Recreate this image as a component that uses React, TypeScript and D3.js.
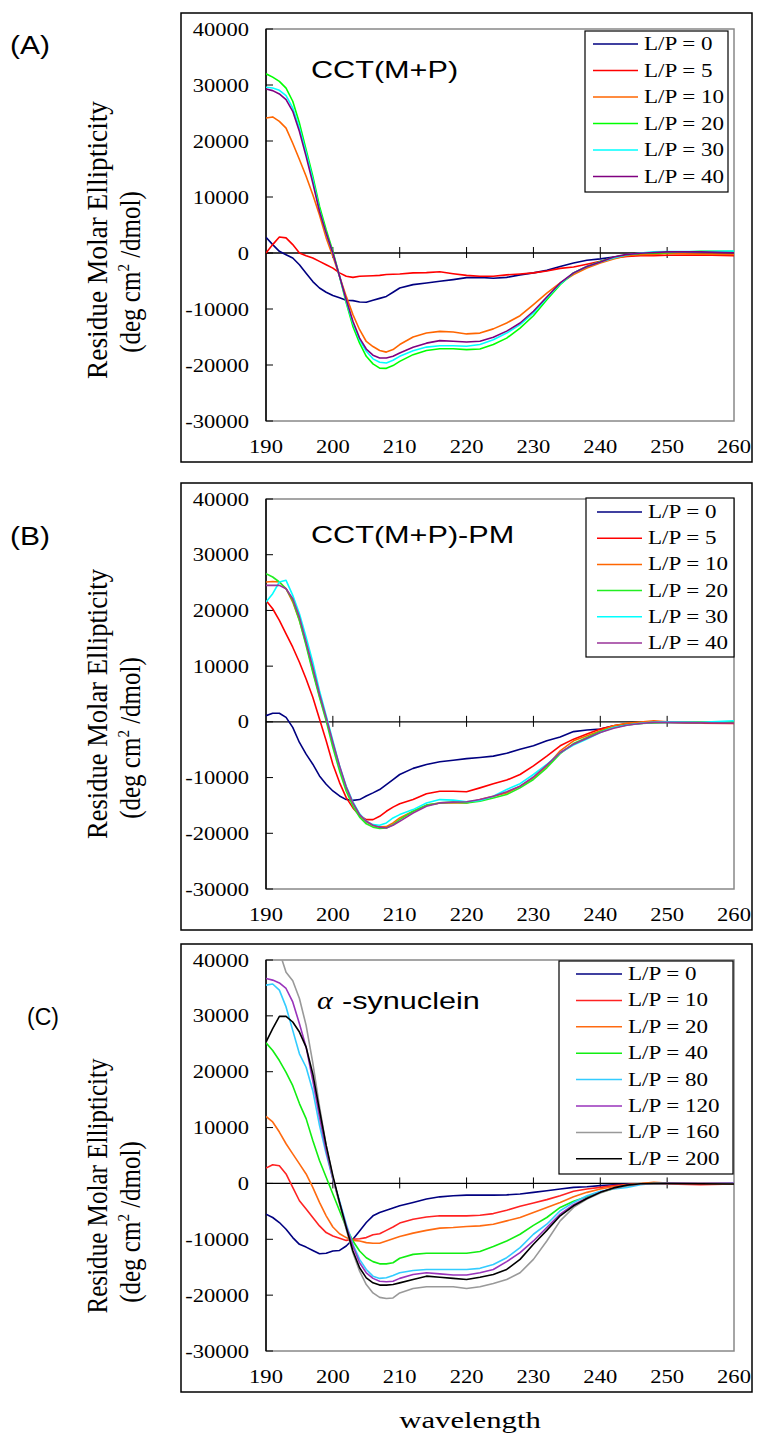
import React, { useEffect } from 'react';
import * as d3 from 'd3';

// ---------- DATA ----------
const WL = [190,191,192,193,194,195,196,197,198,199,200,201,202,203,204,205,206,207,208,209,210,
  212,214,216,218,220,222,224,226,228,230,232,234,236,238,240,242,244,246,248,250,255,260];

const X_TICKS = [190, 200, 210, 220, 230, 240, 250, 260];
const Y_TICKS = [40000, 30000, 20000, 10000, 0, -10000, -20000, -30000];

// Panel A : CCT(M+P)
const A_LABELS = ['L/P = 0', 'L/P = 5', 'L/P = 10', 'L/P = 20', 'L/P = 30', 'L/P = 40'];
const A_LP0 = [2800,1500,300,-300,-900,-2100,-3600,-5100,-6250,-7000,-7600,-8000,-8450,-8500,-8750,-8800,-8450,-8100,-7750,-7000,-6250,
  -5650,-5350,-5050,-4750,-4400,-4350,-4500,-4350,-3900,-3550,-3100,-2400,-1800,-1300,-1050,-700,-400,-300,-200,0,100,-50];
const A_LP5 = [0,1500,2850,2700,1500,0,-500,-900,-1500,-2100,-2700,-3550,-4150,-4350,-4150,-4100,-4050,-4000,-3850,-3800,-3750,
  -3550,-3500,-3350,-3700,-4000,-4150,-4150,-3900,-3750,-3550,-3200,-2750,-2500,-2000,-1500,-900,-600,-500,-500,-400,-350,-500];
const A_LP10 = [24100,24300,23500,22300,19600,16700,13700,10400,6800,2700,-600,-4150,-7750,-11000,-13700,-15800,-16700,-17400,-17700,-17250,-16350,
  -15000,-14300,-14000,-14100,-14450,-14300,-13550,-12500,-11200,-9200,-7150,-5350,-3850,-2700,-1800,-1050,-500,-300,-250,-100,-200,-250];
const A_LP20 = [32000,31400,30650,29450,27100,23200,18450,13700,8350,4150,300,-4150,-8900,-13100,-16100,-18450,-19800,-20550,-20600,-20100,-19350,
  -18150,-17400,-17100,-17100,-17250,-17150,-16350,-15200,-13400,-11200,-8350,-5650,-3550,-2400,-1500,-750,-300,-100,0,50,300,300];
const A_LP30 = [29600,29450,29050,28100,25900,22300,17850,13100,7750,3550,0,-4150,-8600,-12500,-15500,-17550,-18900,-19500,-19650,-19150,-18450,
  -17450,-16800,-16550,-16550,-16650,-16350,-15500,-14300,-12800,-10700,-8050,-5500,-3550,-2400,-1600,-900,-300,0,200,250,250,350];
const A_LP40 = [29300,29000,28400,27400,25300,21700,17250,12500,7450,3550,0,-4150,-8350,-12200,-15200,-17150,-18250,-18750,-18750,-18450,-17850,
  -16850,-16100,-15650,-15750,-15900,-15750,-15050,-13950,-12500,-10400,-7850,-5350,-3550,-2400,-1600,-700,-250,-50,100,200,200,50];

// Panel B : CCT(M+P)-PM
const B_LABELS = ['L/P = 0', 'L/P = 5', 'L/P = 10', 'L/P = 20', 'L/P = 30', 'L/P = 40'];
const B_LP0 = [1100,1550,1550,800,-1000,-3700,-5800,-7600,-9700,-11200,-12400,-13300,-13950,-14100,-13950,-13300,-12750,-12150,-11250,-10350,-9450,
  -8350,-7650,-7150,-6900,-6600,-6400,-6150,-5650,-4900,-4300,-3400,-2700,-1750,-1450,-1300,-700,-400,-300,-100,-100,-150,-200];
const B_LP5 = [21800,20300,18200,15800,13400,10700,7700,4400,500,-3400,-7600,-10900,-13600,-15450,-16800,-17550,-17550,-16950,-16050,-15300,-14700,
  -13950,-12900,-12450,-12450,-12550,-11850,-11100,-10450,-9450,-7900,-6150,-4300,-3100,-2200,-1300,-700,-300,-200,-50,-50,-250,-300];
const B_LP10 = [25100,25200,25100,23900,21500,18200,14000,9200,4700,500,-4000,-8200,-11850,-14550,-16650,-17950,-18600,-18850,-18800,-18150,-17250,
  -16050,-14950,-14550,-14550,-14550,-13950,-13350,-12750,-11550,-10050,-7950,-5200,-3400,-2500,-1600,-700,-250,-50,200,0,-50,-100];
const B_LP20 = [26600,26000,25100,23900,21800,18200,13700,8900,4400,200,-4600,-8800,-12450,-15150,-17100,-18300,-18900,-19150,-19050,-18450,-17550,
  -16050,-14950,-14550,-14400,-14550,-14250,-13650,-13050,-11850,-10350,-8250,-5700,-3900,-2800,-1750,-1000,-550,-300,-200,-100,-100,-50];
const B_LP30 = [21500,23000,25100,25400,22700,19400,15200,10700,5600,1100,-3400,-7900,-11550,-14350,-16500,-17850,-18450,-18550,-18150,-17250,-16650,
  -15750,-14550,-13950,-14050,-14350,-14100,-13350,-12150,-11100,-9450,-7650,-5550,-4150,-3100,-1900,-1000,-550,-250,-50,0,-100,200];
const B_LP40 = [24500,24500,24500,23900,22100,18800,14300,9800,5000,800,-3700,-7900,-11700,-14550,-16650,-17850,-18550,-18900,-19050,-18550,-17850,
  -16350,-15150,-14550,-14400,-14350,-13950,-13350,-12550,-11550,-9900,-7750,-5550,-4000,-2950,-1900,-1150,-600,-300,-100,-100,-150,-200];

// Panel C : alpha-synuclein
const C_LABELS = ['L/P = 0', 'L/P = 10', 'L/P = 20', 'L/P = 40', 'L/P = 80', 'L/P = 120', 'L/P = 160', 'L/P = 200'];
const C_LP0 = [-5500,-6100,-7000,-8200,-9700,-10900,-11400,-12000,-12600,-12500,-12100,-12000,-11200,-10000,-8500,-7000,-5800,-5200,-4800,-4400,-4000,
  -3400,-2800,-2400,-2200,-2100,-2100,-2100,-2050,-1900,-1600,-1300,-1000,-700,-600,-400,-250,-100,-50,0,0,0,-50];
const C_LP10 = [2750,3350,3150,1700,-700,-3100,-4600,-6100,-7600,-8800,-9400,-9800,-10200,-10000,-9900,-9700,-9200,-9000,-8400,-7800,-7100,
  -6400,-6000,-5800,-5800,-5800,-5700,-5400,-4800,-4100,-3500,-2900,-2200,-1400,-1000,-700,-400,-200,-50,0,-100,-250,-100];
const C_LP20 = [12000,11000,9200,7100,5300,3500,1700,-700,-3400,-5800,-7800,-9000,-9700,-10200,-10300,-10600,-10700,-10700,-10300,-9900,-9500,
  -8900,-8400,-8000,-7900,-7700,-7600,-7300,-6700,-6100,-5200,-4300,-3400,-2400,-1600,-1000,-600,-250,0,200,50,50,100];
const C_LP40 = [25200,23800,22000,19900,17500,14300,11600,7700,4100,1100,-1900,-4900,-7900,-10300,-12100,-13300,-14000,-14400,-14400,-14200,-13400,
  -12700,-12500,-12500,-12500,-12500,-12200,-11300,-10300,-9100,-7500,-6100,-4300,-3200,-2400,-1600,-900,-400,-100,0,50,50,0];
const C_LP80 = [35500,35700,34600,31600,27400,23200,20800,16600,10400,5300,800,-3100,-7300,-10900,-13600,-15400,-16600,-17000,-16900,-16500,-16000,
  -15600,-15400,-15400,-15400,-15400,-15200,-14500,-13300,-11500,-9100,-7300,-4900,-3400,-2200,-1400,-1000,-700,-250,0,0,50,100];
const C_LP120 = [36700,36400,35900,34900,32500,28600,24400,18400,11900,5900,800,-3400,-7600,-11200,-14200,-16000,-17000,-17500,-17600,-17500,-17000,
  -16300,-16000,-16200,-16400,-16400,-16000,-15400,-14000,-12400,-10300,-7900,-5500,-3800,-2600,-1600,-800,-350,-100,0,50,100,50];
const C_LP160 = [46000,44000,41500,37800,36300,33100,28300,21600,13800,6800,1100,-3700,-8200,-12400,-15700,-18100,-19600,-20400,-20600,-20500,-19600,
  -18800,-18500,-18500,-18500,-18800,-18500,-17900,-17200,-16000,-13600,-10300,-6700,-4300,-2800,-1700,-900,-400,-100,0,0,50,0];
const C_LP200 = [25300,27700,29900,29900,28900,27100,24400,19600,13100,6800,1400,-3400,-7900,-12100,-15100,-16900,-17800,-18200,-18200,-18100,-17800,
  -17200,-16600,-16800,-17000,-17200,-16800,-16300,-15400,-13600,-10900,-8400,-5800,-4000,-2700,-1600,-800,-300,-50,0,0,-50,-100];

const A_COLORS = ['#000080', '#FF0000', '#FF6600', '#00FF00', '#00FFFF', '#800080'];
const B_COLORS = ['#000080', '#FF0000', '#FF6600', '#22EE22', '#00FFFF', '#993399'];
const C_COLORS = ['#000080', '#FF2222', '#FF6A10', '#11EE11', '#33CCFF', '#9933BB', '#999999', '#000000'];

// ---------- LAYOUT ----------
const SERIF = "'Liberation Serif', 'Times New Roman', serif";
const SANS = "'Liberation Sans', Arial, sans-serif";
const SX = 1.25;
const PL = 266, PR = 734;

const PANELS = [
  {
    id: 'A', series: [A_LP0, A_LP5, A_LP10, A_LP20, A_LP30, A_LP40], labels: A_LABELS, colors: A_COLORS,
    frame: [181, 13, 752, 462], top: 29, bottom: 421,
    tag: '(A)', tagX: 10, tagY: 54, tagSize: 25,
    title: 'CCT(M+P)', titleX: 311, titleY: 78, alpha: false,
    leg: { x: 585, y: 31, w: 143, h: 161, y0: 44, step: 26.5, l0: 593, l1: 638, tx: 644 },
    yt1: 240, yt2: 272, ytLen: 278,
  },
  {
    id: 'B', series: [B_LP0, B_LP5, B_LP10, B_LP20, B_LP30, B_LP40], labels: B_LABELS, colors: B_COLORS,
    frame: [181, 483, 752, 930], top: 499, bottom: 889,
    tag: '(B)', tagX: 10, tagY: 545, tagSize: 25,
    title: 'CCT(M+P)-PM', titleX: 311, titleY: 543, alpha: false,
    leg: { x: 586, y: 498, w: 148, h: 159, y0: 512, step: 26.2, l0: 597, l1: 642, tx: 648 },
    yt1: 704, yt2: 738, ytLen: 270,
  },
  {
    id: 'C', series: [C_LP0, C_LP10, C_LP20, C_LP40, C_LP80, C_LP120, C_LP160, C_LP200], labels: C_LABELS, colors: C_COLORS,
    frame: [181, 944, 752, 1392], top: 960, bottom: 1351,
    tag: '(C)', tagX: 27, tagY: 1025, tagSize: 23,
    title: '-synuclein', titleX: 342, titleY: 1009, alpha: true,
    leg: { x: 559, y: 961, w: 174, h: 213, y0: 974, step: 26.4, l0: 576, l1: 622, tx: 628 },
    yt1: 1186, yt2: 1222, ytLen: 255,
  },
];

function Txt({ x, y, size, family, anchor = 'start', sx = SX, children, italic = false, fill = '#000' }: any) {
  return (
    <text transform={`translate(${x},${y}) scale(${sx},1)`} fontSize={size} fontFamily={family}
      textAnchor={anchor} fontStyle={italic ? 'italic' : 'normal'} fill={fill}>{children}</text>
  );
}

function Panel({ p }: any) {
  const x = d3.scaleLinear().domain([190, 260]).range([PL, PR]);
  const y = d3.scaleLinear().domain([-30000, 40000]).range([p.bottom, p.top]);
  const line = d3.line<number>().x((_d, i) => x(WL[i])).y((d) => y(d));
  const [fx0, fy0, fx1, fy1] = p.frame;
  const clipId = `clip${p.id}`;
  return (
    <g>
      <rect x={fx0} y={fy0} width={fx1 - fx0} height={fy1 - fy0} fill="#fff" stroke="#000" strokeWidth={1.5} />
      <defs>
        <clipPath id={clipId}>
          <rect x={PL} y={p.top} width={PR - PL} height={p.bottom - p.top} />
        </clipPath>
      </defs>
      {/* plot area border */}
      <rect x={PL} y={p.top} width={PR - PL} height={p.bottom - p.top} fill="none" stroke="#888" strokeWidth={1.5} />
      <line x1={PL} x2={PL} y1={p.top} y2={p.bottom} stroke="#000" strokeWidth={1.5} />
      {/* y ticks */}
      {Y_TICKS.map((t) => (
        <g key={t}>
          <line x1={PL} x2={PL + 7} y1={y(t)} y2={y(t)} stroke="#000" strokeWidth={1} />
          <Txt x={249} y={y(t) + 6.5} size={18} family={SERIF} anchor="end">{String(t)}</Txt>
        </g>
      ))}
      {/* zero line + x ticks */}
      <line x1={PL} x2={PR} y1={y(0)} y2={y(0)} stroke="#000" strokeWidth={1.3} />
      {X_TICKS.filter((t) => t > 190 && t < 260).map((t) => (
        <line key={t} x1={x(t)} x2={x(t)} y1={y(0) - 6} y2={y(0) + 5} stroke="#000" strokeWidth={1} />
      ))}
      {X_TICKS.map((t) => (
        <Txt key={t} x={x(t)} y={p.bottom + 32} size={18.5} family={SERIF} anchor="middle" sx={1.22}>{String(t)}</Txt>
      ))}
      {/* curves */}
      <g clipPath={`url(#${clipId})`}>
        {p.series.map((s: number[], i: number) => (
          <path key={i} d={line(s) || ''} fill="none" stroke={p.colors[i]} strokeWidth={1.6} strokeLinejoin="round" />
        ))}
      </g>
      {/* legend */}
      <rect x={p.leg.x} y={p.leg.y} width={p.leg.w} height={p.leg.h} fill="#fff" stroke="#000" strokeWidth={1.2} />
      {p.labels.map((lab: string, i: number) => {
        const cy = p.leg.y0 + i * p.leg.step;
        return (
          <g key={lab}>
            <line x1={p.leg.l0} x2={p.leg.l1} y1={cy} y2={cy} stroke={p.colors[i]} strokeWidth={1.5} />
            <Txt x={p.leg.tx} y={cy + 6} size={18} family={SERIF} sx={1.28}>{lab}</Txt>
          </g>
        );
      })}
      {/* title */}
      {p.alpha && <Txt x={317} y={p.titleY} size={25} family={SERIF} italic sx={1.2}>α</Txt>}
      <Txt x={p.titleX} y={p.titleY} size={24.5} family={SANS}>{p.title}</Txt>
      {/* panel tag */}
      <Txt x={p.tagX} y={p.tagY} size={p.tagSize} family={SANS} sx={p.id === 'C' ? 1.0 : 1.2}>{p.tag}</Txt>
      {/* y-axis title */}
      <text transform={`translate(107,${p.yt1}) scale(1.15,1) rotate(-90)`} fontSize={26} fontFamily={SERIF}
        textAnchor="middle" textLength={p.ytLen} lengthAdjust="spacingAndGlyphs">Residue Molar Ellipticity</text>
      <text transform={`translate(140,${p.yt2}) scale(1.15,1) rotate(-90)`} fontSize={25} fontFamily={SERIF}
        textAnchor="middle">
        <tspan>(deg cm</tspan><tspan fontSize={15} dy={-10}>2</tspan><tspan dy={10}> /dmol)</tspan>
      </text>
    </g>
  );
}

export default function App() {
  useEffect(() => {
    document.body.style.margin = '0';
  }, []);
  return (
    <svg width={758} height={1435} viewBox="0 0 758 1435"
      style={{ display: 'block', position: 'absolute', left: 0, top: 0, background: '#fff' }}>
      <rect x={0} y={0} width={758} height={1435} fill="#fff" />
      {PANELS.map((p) => <Panel key={p.id} p={p} />)}
      <Txt x={470} y={1428} size={24} family={SERIF} anchor="middle" sx={1.28}>wavelength</Txt>
    </svg>
  );
}
